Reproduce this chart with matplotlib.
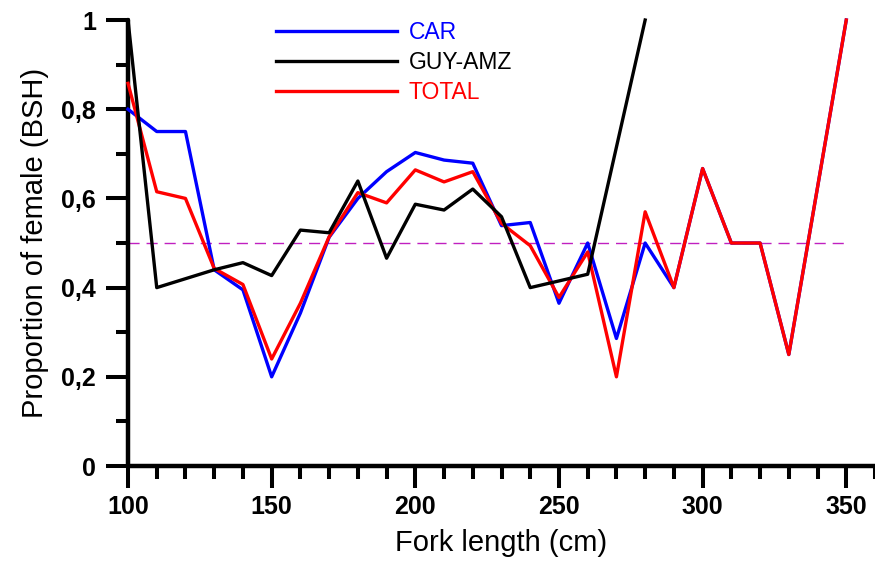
import numpy as np
import matplotlib
matplotlib.use("Agg")
import matplotlib.pyplot as plt
from matplotlib.ticker import MultipleLocator, FuncFormatter

plt.rcParams['font.family'] = ['Liberation Sans', 'DejaVu Sans']

# fork length classes (cm)
fl = np.arange(100, 360, 10)

# proportion of females per class
car = [0.80, 0.75, 0.75, 0.44, 0.395, 0.20, 0.343, 0.513, 0.60, 0.66,
       0.703, 0.686, 0.679, 0.539, 0.546, 0.365, 0.50, 0.286, 0.50, 0.40,
       0.667, 0.50, 0.50, 0.25, 0.625, 1.0]
guy_amz = [1.0, 0.40, 0.42, 0.44, 0.456, 0.427, 0.529, 0.523, 0.639, 0.466,
           0.587, 0.574, 0.621, 0.559, 0.40, 0.415, 0.43, 0.715, 1.0]
total = [0.858, 0.615, 0.60, 0.443, 0.407, 0.24, 0.365, 0.514, 0.613, 0.59,
         0.664, 0.637, 0.66, 0.544, 0.494, 0.378, 0.48, 0.20, 0.57, 0.40,
         0.667, 0.50, 0.50, 0.25, 0.625, 1.0]

fig = plt.figure(figsize=(8.75, 5.61), dpi=100)
ax = fig.add_axes([0.1463, 0.1693, 0.8537, 0.795])

lw = 2.4
ax.plot(fl[:len(car)], car, color='#0000ff', lw=lw, label='CAR', clip_on=False, zorder=3)
ax.plot(fl[:len(total)], total, color='#ff0000', lw=lw, label='TOTAL', clip_on=False, zorder=4)
ax.plot(fl[:len(guy_amz)], guy_amz, color='black', lw=lw, label='GUY-AMZ', clip_on=False, zorder=5)
ax.plot([100, 350], [0.5, 0.5], color='#c020c0', lw=1.0, dashes=(8, 5), zorder=2)

ax.set_xlim(100, 360)
ax.set_ylim(0, 1)

for s in ['top', 'right']:
    ax.spines[s].set_visible(False)
for s in ['left', 'bottom']:
    ax.spines[s].set_linewidth(3.2)
    ax.spines[s].set_capstyle('round')

ax.xaxis.set_major_locator(MultipleLocator(50))
ax.xaxis.set_minor_locator(MultipleLocator(10))
ax.yaxis.set_major_locator(MultipleLocator(0.2))
ax.yaxis.set_minor_locator(MultipleLocator(0.1))
ax.yaxis.set_major_formatter(FuncFormatter(
    lambda v, p: '0' if abs(v) < 1e-9 else ('1' if abs(v - 1) < 1e-9 else f'{v:.1f}'.replace('.', ','))))

ax.tick_params(which='major', direction='out', length=16, width=2.9, labelsize=18)
ax.tick_params(axis='x', which='major', pad=5)
ax.tick_params(axis='y', which='major', pad=7)
ax.tick_params(which='minor', direction='out', length=9, width=2.9)
for lab in ax.get_xticklabels() + ax.get_yticklabels():
    lab.set_fontweight('bold')

ax.set_xlabel('Fork length (cm)', fontsize=21, labelpad=7)
ax.set_ylabel('Proportion of female (BSH)', fontsize=21, labelpad=9)

handles, labels = ax.get_legend_handles_labels()
order = [0, 2, 1]
leg = ax.legend([handles[i] for i in order], [labels[i] for i in order],
                loc='upper left', bbox_to_anchor=(0.17, 1.045), frameon=False,
                fontsize=16.5, handlelength=5.3, handletextpad=0.5, labelspacing=0.32)
for txt, col in zip(leg.get_texts(), ['#0000ff', 'black', '#ff0000']):
    txt.set_color(col)

fig.savefig('out.png', dpi=100)
